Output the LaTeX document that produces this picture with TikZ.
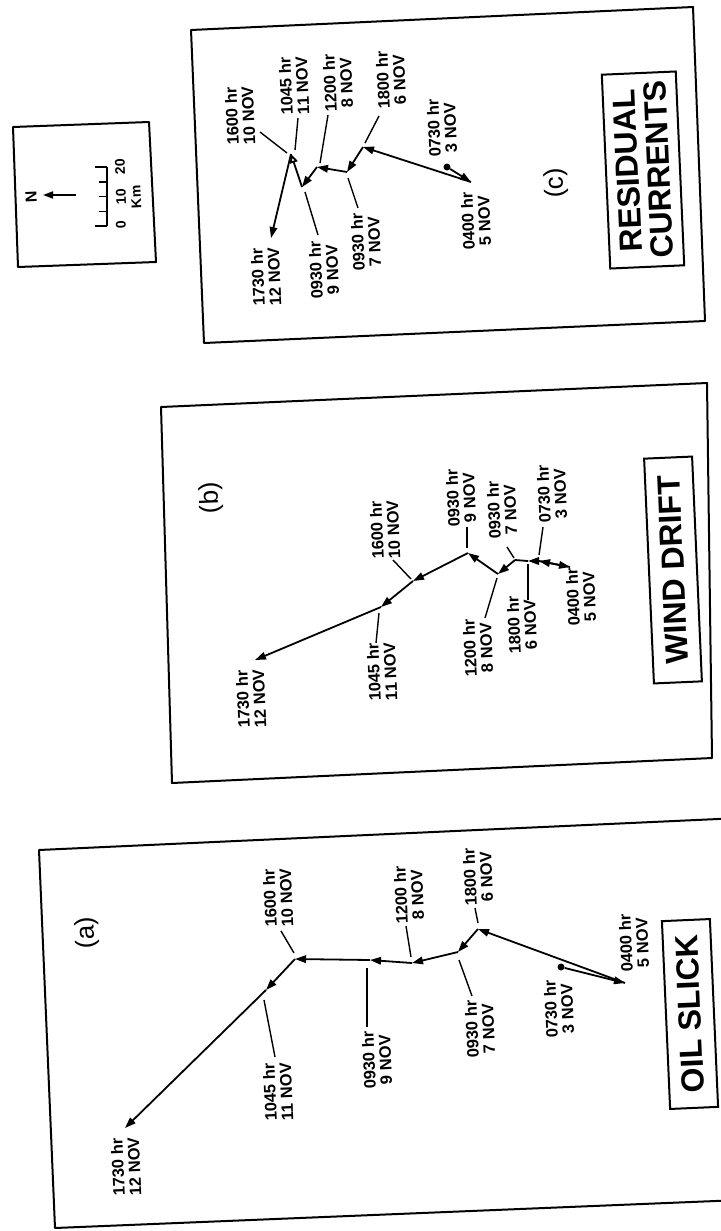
\documentclass[tikz,border=0pt]{standalone}
\usepackage{fontspec}
\setmainfont{Liberation Sans}
\usetikzlibrary{arrows.meta,calc}
\begin{document}
\begin{tikzpicture}[x=1pt,y=-1pt,
  lbl/.style={font=\fontsize{16.5}{16.5}\selectfont\bfseries, align=center, rotate=92.5, inner sep=0pt},
  trk/.style={line width=1.8pt, -{Triangle[length=11pt,width=7.5pt]}},
  opentrk/.style={line width=1.8pt, -{Triangle[open,length=9pt,width=8pt]}},
  ldr/.style={line width=1.4pt},
  frame/.style={line width=2pt, line join=round},
  ttl/.style={draw, line width=2pt, font=\fontsize{32}{31}\selectfont\bfseries, rotate=92.5, align=center, inner sep=0pt},
  pan/.style={font=\fontsize{26}{26}\selectfont, rotate=92.5, inner sep=0pt},
  sml/.style={font=\fontsize{14}{14}\selectfont\bfseries, rotate=92.5, inner sep=0pt},
  dot/.style={circle, fill, inner sep=0pt, minimum size=7pt}]
\useasboundingbox (0,0) rectangle (720,1231);
\fill[white] (0,0) rectangle (720,1231);

% ---------------- scale box ----------------
\draw[frame] (13,127) -- (149,122) -- (156,262) -- (18,267) -- cycle;
\node[sml, font=\fontsize{16}{16}\selectfont\bfseries] (north) at (31,197) {N};
\coordinate (ntail) at (76,195);
\coordinate (ntip) at (43,195);
\draw[line width=1.8pt, -{Triangle[length=10pt,width=7pt]}] (ntail) -- (ntip);
\coordinate (s0) at (107,226);
\coordinate (s20) at (107,167);
\draw[line width=1.5pt] (s0) -- (s20);
\draw[line width=1.5pt] (s0) -- ++(-12,0);
\draw[line width=1.5pt] (s20) -- ++(-12,0);
\foreach \t in {0.25,0.5,0.75} \draw[line width=1.5pt] ($(s0)!\t!(s20)$) -- ++(-8,0);
\node[sml] (k0) at (121,225) {0};
\node[sml] (k10) at (121,197) {10};
\node[sml] (k20) at (120,167) {20};
\node[sml] (km) at (136,197) {Km};

% ---------------- panel (c) ----------------
\draw[frame] (191,30) -- (693,7) -- (705,321) -- (204,343) -- cycle;
\node[pan] (labc) at (556,183) {(c)};
\node[ttl, minimum width=194pt, minimum height=74pt] (rc) at (643,170) {RESIDUAL\\CURRENTS};
\node[dot] (c0730) at (447,167) {};
\coordinate (c0400) at (471,182);
\coordinate (c1800) at (363,147);
\coordinate (c0930s) at (347,172);
\coordinate (c1200) at (317,167);
\coordinate (c0930n) at (302,187);
\coordinate (c1600) at (291,154);
\coordinate (c1730) at (271,238);
\draw[trk] (c0730) -- (c0400);
\draw[trk] (c0400) -- (c1800);
\draw[trk] (c1800) -- (c0930s);
\draw[trk] (c0930s) -- (c1200);
\draw[trk] (c1200) -- (c0930n);
\draw[opentrk] (c0930n) -- (c1600);
\draw[trk] (c1600) -- (c1730);
\node[lbl] (lc1600) at (240,116) {1600 hr\\10 NOV};
\node[lbl] (lc1045) at (294,86) {1045 hr\\11 NOV};
\node[lbl] (lc1200) at (338,83) {1200 hr\\8 NOV};
\node[lbl] (lc1800) at (391,80) {1800 hr\\6 NOV};
\node[lbl] (lc0730) at (442,128) {0730 hr\\3 NOV};
\node[lbl] (lc0400) at (476,221) {0400 hr\\5 NOV};
\node[lbl] (lc0930s) at (366,242) {0930 hr\\7 NOV};
\node[lbl] (lc0930n) at (324,270) {0930 hr\\9 NOV};
\node[lbl] (lc1730) at (266,277) {1730 hr\\12 NOV};
\coordinate (q1) at (260,132); \coordinate (q1e) at (287,153);
\coordinate (q2) at (298,118); \coordinate (q2e) at (295,150);
\coordinate (q3) at (328,115); \coordinate (q3e) at (320,163);
\coordinate (q4) at (379,116); \coordinate (q4e) at (365,143);
\coordinate (q5) at (348,178); \coordinate (q5e) at (358,208);
\coordinate (q6) at (305,192); \coordinate (q6e) at (318,235);
\draw[ldr] (q1) -- (q1e);
\draw[ldr] (q2) -- (q2e);
\draw[ldr] (q3) -- (q3e);
\draw[ldr] (q4) -- (q4e);
\draw[ldr] (q5) -- (q5e);
\draw[ldr] (q6) -- (q6e);

% ---------------- panel (b) ----------------
\draw[frame] (161,407) -- (707,383) -- (712,758) -- (172,783) -- cycle;
\node[pan] (labb) at (211,498) {(b)};
\node[ttl, minimum width=225pt, minimum height=48pt] (wd) at (673,570) {WIND DRIFT};
\coordinate (b0730) at (539,561);
\coordinate (b0400) at (570,567);
\coordinate (b1800) at (528,561);
\coordinate (b0930s) at (515,560);
\coordinate (b1200) at (498,574);
\coordinate (b0930n) at (468,553);
\coordinate (b1600) at (413,581);
\coordinate (b1045) at (381,607);
\coordinate (b1730) at (255,660);
\draw[trk] (b0730) -- (b0400);
\draw[trk] (b0400) -- (b0730);
\draw[trk] (b0730) -- (b1800);
\draw[line width=1.8pt] (b1800) -- (b0930s);
\draw[trk] (b0930s) -- (b1200);
\draw[trk] (b1200) -- (b0930n);
\draw[trk] (b0930n) -- (b1600);
\draw[trk] (b1600) -- (b1045);
\draw[trk] (b1045) -- (b1730);
\node[lbl] (lb1730) at (251,699) {1730 hr\\12 NOV};
\node[lbl] (lb1045) at (382,672) {1045 hr\\11 NOV};
\node[lbl] (lb1600) at (385,530) {1600 hr\\10 NOV};
\node[lbl] (lb0930n) at (461,498) {0930 hr\\9 NOV};
\node[lbl] (lb0930s) at (502,510) {0930 hr\\7 NOV};
\node[lbl] (lb0730) at (552,494) {0730 hr\\3 NOV};
\node[lbl] (lb1200) at (478,648) {1200 hr\\8 NOV};
\node[lbl] (lb1800) at (522,625) {1800 hr\\6 NOV};
\node[lbl] (lb0400) at (581,597) {0400 hr\\5 NOV};
\coordinate (r1) at (379,613); \coordinate (r1e) at (376,643);
\coordinate (r2) at (393,560); \coordinate (r2e) at (411,579);
\coordinate (r3) at (467,527); \coordinate (r3e) at (467,548);
\coordinate (r4) at (507,547); \coordinate (r4e) at (514,558);
\coordinate (r5) at (543,527); \coordinate (r5e) at (539,555);
\coordinate (r6) at (497,578); \coordinate (r6e) at (485,618);
\coordinate (r7) at (528,564); \coordinate (r7e) at (528,600);
\draw[ldr] (r1) -- (r1e);
\draw[ldr] (r2) -- (r2e);
\draw[ldr] (r3) -- (r3e);
\draw[ldr] (r4) -- (r4e);
\draw[ldr] (r5) -- (r5e);
\draw[ldr] (r6) -- (r6e);
\draw[ldr] (r7) -- (r7e);

% ---------------- panel (a) ----------------
\draw[frame] (740,818) -- (39,850) -- (55,1228) -- (740,1200);
\node[pan] (laba) at (87,933) {(a)};
\node[ttl, minimum width=188pt, minimum height=48pt] (os) at (690,1014) {OIL SLICK};
\node[dot] (a0730) at (561,967) {};
\coordinate (a0400) at (625,983);
\coordinate (a1800) at (478,929);
\coordinate (a0930s) at (458,952);
\coordinate (a1200) at (412,963);
\coordinate (a0930n) at (370,960);
\coordinate (a1600) at (295,959);
\coordinate (a1045) at (266,990);
\coordinate (a1730) at (125,1128);
\draw[trk] (a0730) -- (a0400);
\draw[trk] (a0400) -- (a1800);
\draw[trk] (a1800) -- (a0930s);
\draw[trk] (a0930s) -- (a1200);
\draw[trk] (a1200) -- (a0930n);
\draw[trk] (a0930n) -- (a1600);
\draw[trk] (a1600) -- (a1045);
\draw[trk] (a1045) -- (a1730);
\node[lbl] (la1600) at (278,898) {1600 hr\\10 NOV};
\node[lbl] (la1200) at (409,895) {1200 hr\\8 NOV};
\node[lbl] (la1800) at (478,877) {1800 hr\\6 NOV};
\node[lbl] (la0930s) at (480,1029) {0930 hr\\7 NOV};
\node[lbl] (la0930n) at (377,1060) {0930 hr\\9 NOV};
\node[lbl] (la1045) at (278,1092) {1045 hr\\11 NOV};
\node[lbl] (la1730) at (126,1167) {1730 hr\\12 NOV};
\node[lbl] (la0730) at (559,1009) {0730 hr\\3 NOV};
\node[lbl] (la0400) at (634,943) {0400 hr\\5 NOV};
\coordinate (t1) at (281,931); \coordinate (t1e) at (294,953);
\coordinate (t2) at (406,926); \coordinate (t2e) at (411,957);
\coordinate (t3) at (475,908); \coordinate (t3e) at (478,923);
\coordinate (t4) at (459,960); \coordinate (t4e) at (472,996);
\coordinate (t5) at (367,968); \coordinate (t5e) at (367,1027);
\coordinate (t6) at (264,1000); \coordinate (t6e) at (275,1057);
\draw[ldr] (t1) -- (t1e);
\draw[ldr] (t2) -- (t2e);
\draw[ldr] (t3) -- (t3e);
\draw[ldr] (t4) -- (t4e);
\draw[ldr] (t5) -- (t5e);
\draw[ldr] (t6) -- (t6e);
\end{tikzpicture}
\end{document}
